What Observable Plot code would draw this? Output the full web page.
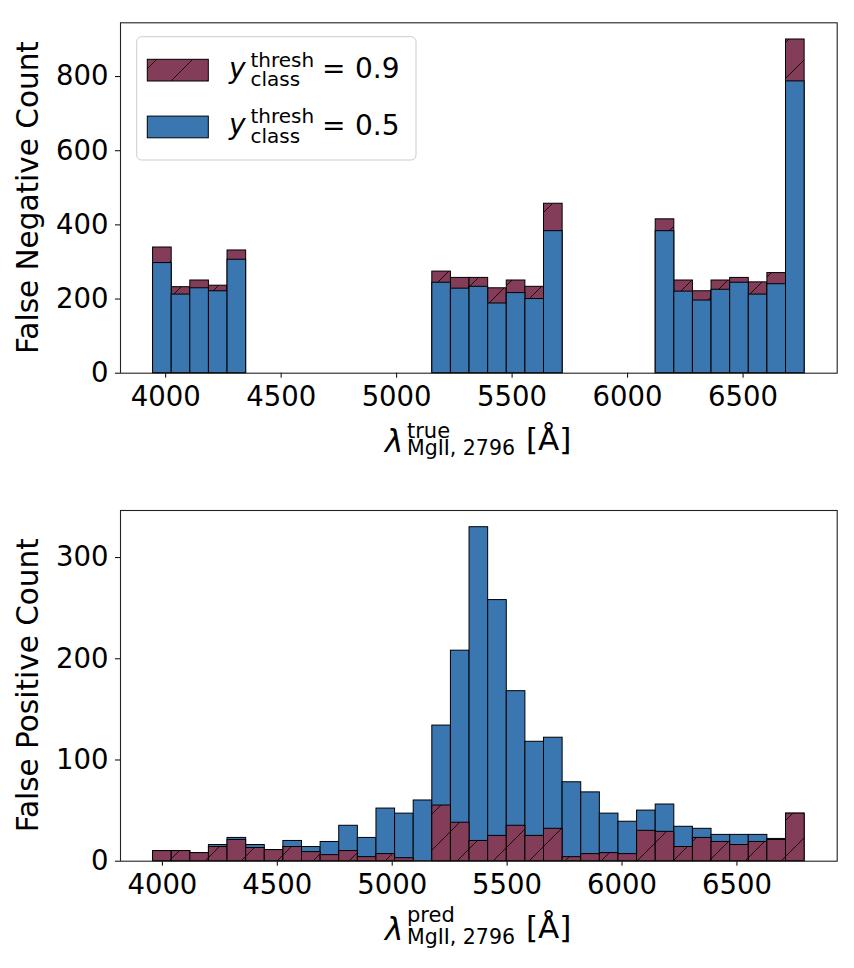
<!DOCTYPE html>
<html>
<head>
<meta charset="utf-8">
<script src="https://cdn.jsdelivr.net/npm/d3@7"></script>
<script src="https://cdn.jsdelivr.net/npm/@observablehq/plot@0.6"></script>
<style>
  html, body { margin: 0; padding: 0; background: #fff; }
  #chart svg { display: block; }
</style>
</head>
<body>
<svg width="0" height="0" style="position:absolute">
  <defs>
    <pattern id="hatchRed" patternUnits="userSpaceOnUse" width="36" height="36">
      <rect width="36" height="36" fill="#843d58"></rect>
      <path d="M-9,9 L9,-9 M0,36 L36,0 M27,45 L45,27" stroke="#1a0a10" stroke-width="1"></path>
    </pattern>
  </defs>
</svg>
<div id="chart"></div>
<script>
// ---------- data ----------
// False negatives vs true wavelength (bin edges, Å)
const fnEdges = [3945.5, 4026.1, 4106.7, 4187.3, 4267.9, 4348.5, 4429.1, 4509.7, 4590.3, 4670.9,
  4751.5, 4832.1, 4912.7, 4993.3, 5073.9, 5154.5, 5235.1, 5315.7, 5396.3, 5476.9,
  5557.5, 5638.1, 5718.7, 5799.3, 5879.9, 5960.5, 6041.1, 6121.7, 6202.3, 6282.9,
  6363.5, 6444.1, 6524.7, 6605.3, 6685.9, 6766.5];
const fnThresh09 = [339, 232, 250, 236, 331, 0, 0, 0, 0, 0, 0, 0, 0, 0, 0,
  274, 257, 257, 229, 250, 233, 457, 0, 0, 0, 0, 0,
  415, 250, 221, 250, 257, 245, 270, 900];
const fnThresh05 = [297, 212, 229, 221, 306, 0, 0, 0, 0, 0, 0, 0, 0, 0, 0,
  244, 228, 233, 188, 216, 200, 383, 0, 0, 0, 0, 0,
  383, 220, 196, 225, 244, 212, 240, 787];

// False positives vs predicted wavelength (bin edges, Å)
const fpEdges = [3959.5, 4040.5, 4121.5, 4202.5, 4283.5, 4364.5, 4445.5, 4526.5, 4607.5, 4688.5,
  4769.5, 4850.5, 4931.5, 5012.5, 5093.5, 5174.5, 5255.5, 5336.5, 5417.5, 5498.5,
  5579.5, 5660.5, 5741.5, 5822.5, 5903.5, 5984.5, 6065.5, 6146.5, 6227.5, 6308.5,
  6389.5, 6470.5, 6551.5, 6632.5, 6713.5, 6794.5];
const fpThresh05 = [10, 10, 8, 16, 23, 16, 11, 20, 14, 19, 35, 23, 52, 47, 60, 134, 208, 330, 258, 168,
  118, 122, 78, 68, 47, 39, 50, 56, 34, 32, 26, 26, 26, 22, 47];
const fpThresh09 = [10, 10, 8, 14, 21, 13, 11, 14, 9, 6, 10, 4, 7, 3, 0, 55, 38, 20, 25, 35,
  25, 32, 4, 7, 8, 7, 30, 29, 14, 23, 19, 16, 19, 21, 47];

const xTicks = [4000, 4500, 5000, 5500, 6000, 6500];
const fnYTicks = [0, 200, 400, 600, 800];
const fpYTicks = [0, 100, 200, 300];

const legendLabels = ["0.9", "0.5"];
const colorBlue = "#3a76b0";
const fillRed = "url(#hatchRed)";

// ---------- helpers ----------
const toBins = (edges, counts) => counts.map((c, i) => ({x1: edges[i], x2: edges[i + 1], count: c}));
const padDomain = (edges, frac) => {
  const lo = edges[0], hi = edges[edges.length - 1], w = hi - lo;
  return [lo - frac * w, hi + frac * w];
};
const barLayer = (data, fill) => Plot.rectY(data, {
  x1: "x1", x2: "x2", y1: () => 0, y2: "count",
  fill, stroke: "black", strokeWidth: 1
});

function panel({height, marginTop, marginBottom, xDomain, yDomain, yTicks, layers}) {
  return Plot.plot({
    width: 854,
    height,
    marginLeft: 120,
    marginRight: 17.3,
    marginTop,
    marginBottom,
    style: {fontFamily: "DejaVu Sans", fontSize: "27.5px", color: "#000", background: "#fff"},
    x: {domain: xDomain, ticks: xTicks, tickSize: 5, tickPadding: 8, label: null, tickFormat: d3.format("d")},
    y: {domain: yDomain, ticks: yTicks, tickSize: 5, tickPadding: 7, label: null, tickFormat: d3.format("d")},
    marks: [...layers, Plot.frame({stroke: "#222", strokeWidth: 1.1})]
  });
}

function addText(svg, pieces) {
  const g = d3.select(svg).append("g")
    .attr("font-family", "DejaVu Sans").attr("fill", "#000").attr("text-anchor", "start");
  for (const p of pieces) {
    const t = g.append("text").attr("x", p.x).attr("y", p.y).attr("font-size", p.size).text(p.text);
    if (p.italic) t.attr("font-style", "italic");
    if (p.rotate) t.attr("transform", `rotate(-90,${p.x},${p.y})`).attr("text-anchor", "middle");
  }
}

// ---------- top panel ----------
const fnTop = panel({
  height: 490, marginTop: 22.3, marginBottom: 117.3,
  xDomain: padDomain(fnEdges, 0.05),
  yDomain: [0, d3.max(fnThresh09) * 1.05],
  yTicks: fnYTicks,
  layers: [barLayer(toBins(fnEdges, fnThresh09), fillRed), barLayer(toBins(fnEdges, fnThresh05), colorBlue)]
});

// legend
{
  const g = d3.select(fnTop).append("g");
  g.append("rect").attr("x", 136.7).attr("y", 36.7).attr("width", 279.3).attr("height", 123.3)
    .attr("rx", 5).attr("fill", "#fff").attr("fill-opacity", 0.8).attr("stroke", "#cccccc").attr("stroke-width", 1);
  const fills = [fillRed, colorBlue];
  legendLabels.forEach((lab, i) => {
    const dy = i * 56.8;
    g.append("rect").attr("x", 147.3).attr("y", 59.3 + dy).attr("width", 61).attr("height", 21.7)
      .attr("fill", fills[i]).attr("stroke", "black").attr("stroke-width", 1);
    addText(fnTop, [
      {text: "y", x: 229, y: 77.5 + dy, size: 28, italic: true},
      {text: "thresh", x: 250.5, y: 66.5 + dy, size: 20},
      {text: "class", x: 250.5, y: 86 + dy, size: 20},
      {text: "=", x: 322, y: 78.3 + dy, size: 28},
      {text: lab, x: 355, y: 78.3 + dy, size: 28}
    ]);
  });
}
addText(fnTop, [
  {text: "False Negative Count", x: 38, y: 197.5, size: 29.5, rotate: true},
  {text: "λ", x: 385, y: 451.5, size: 31, italic: true},
  {text: "true", x: 407, y: 437.5, size: 21},
  {text: "MgII, 2796", x: 407, y: 454.5, size: 20.5},
  {text: "[Å]", x: 526, y: 450, size: 31}
]);

// ---------- bottom panel ----------
const fpBottom = panel({
  height: 478, marginTop: 20, marginBottom: 107.3,
  xDomain: padDomain(fpEdges, 0.05),
  yDomain: [0, d3.max(fpThresh05) * 1.05],
  yTicks: fpYTicks,
  layers: [barLayer(toBins(fpEdges, fpThresh05), colorBlue), barLayer(toBins(fpEdges, fpThresh09), fillRed)]
});
addText(fpBottom, [
  {text: "False Positive Count", x: 38, y: 195.3, size: 29.5, rotate: true},
  {text: "λ", x: 385, y: 450, size: 31, italic: true},
  {text: "pred", x: 407, y: 431.5, size: 21},
  {text: "MgII, 2796", x: 407, y: 453.8, size: 20.5},
  {text: "[Å]", x: 526, y: 448, size: 31}
]);

const chart = document.getElementById("chart");
chart.appendChild(fnTop);
chart.appendChild(fpBottom);
</script>
</body>
</html>
